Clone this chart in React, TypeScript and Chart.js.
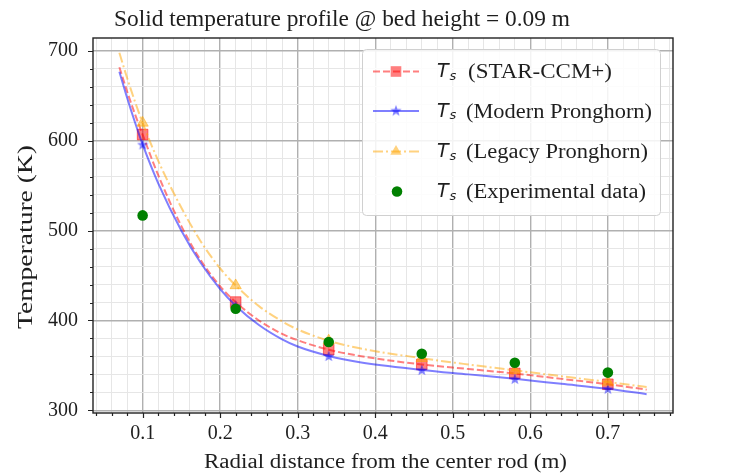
import React, { useEffect, useRef } from 'react';
import { Chart, registerables } from 'chart.js';

Chart.register(...registerables);

const TITLE = 'Solid temperature profile @ bed height = 0.09 m';
const X_LABEL = 'Radial distance from the center rod (m)';
const Y_LABEL = 'Temperature (K)';

// radial positions (m) of the simulated profiles
const simX = [0.07, 0.08, 0.09, 0.1, 0.12, 0.15, 0.175, 0.2, 0.22, 0.25, 0.28, 0.3, 0.34, 0.38, 0.46, 0.52, 0.58, 0.64, 0.7, 0.75];
const starCcmT = [682, 655, 630, 607, 562, 505, 467, 438, 420.5, 400, 385, 378, 367.5, 360.5, 351, 346, 341, 335, 329, 323];
const modernT = [677, 648, 621, 596, 553, 500, 464, 435, 416.5, 395, 379, 371, 360.5, 353.5, 345, 340, 335, 329.5, 324, 318];
const legacyT = [698, 670, 644, 620, 578, 525.5, 488, 458, 439, 416, 399, 390, 377.5, 369, 358, 351, 344.5, 338, 331.5, 326];
const markerX = [0.1, 0.22, 0.34, 0.46, 0.58, 0.7];

const expX = [0.1, 0.22, 0.34, 0.46, 0.58, 0.7];
const expT = [517, 413, 376, 363, 353, 342];

const xMajorTicks = [0.1, 0.2, 0.3, 0.4, 0.5, 0.6, 0.7];
const xMinorTicks = [0.04, 0.06, 0.08, 0.12, 0.14, 0.16, 0.18, 0.22, 0.24, 0.26, 0.28, 0.32, 0.34, 0.36, 0.38, 0.42, 0.44, 0.46, 0.48, 0.52, 0.54, 0.56, 0.58, 0.62, 0.64, 0.66, 0.68, 0.72, 0.74, 0.76, 0.78];
const yMajorTicks = [300, 400, 500, 600, 700];
const yMinorTicks = [320, 340, 360, 380, 420, 440, 460, 480, 520, 540, 560, 580, 620, 640, 660, 680];

const legendLabels = ['(STAR-CCM+)', '(Modern Pronghorn)', '(Legacy Pronghorn)', '(Experimental data)'];

const X_MIN = 0.036;
const X_MAX = 0.784;
const Y_MIN = 297;
const Y_MAX = 714.5;

const SERIF = "'Liberation Serif', 'Times New Roman', serif";
const TEXT = '#1e1e1e';
const RED = 'rgba(255,0,0,0.5)';
const BLUE = 'rgba(0,0,255,0.5)';
const ORANGE = 'rgba(255,165,0,0.5)';
const GREEN = '#008000';

const near = (a: number, b: number) => Math.abs(a - b) < 1e-6;
const isMajorX = (v: number) => xMajorTicks.some((m) => near(m, v));
const isMajorY = (v: number) => yMajorTicks.some((m) => near(m, v));
const isMarker = (x: number) => markerX.some((m) => near(m, x));
const pts = (xs: number[], ys: number[]) => xs.map((x, i) => ({ x, y: ys[i] }));

function makeStar(size: number, color: string) {
  const c = document.createElement('canvas');
  c.width = size;
  c.height = size;
  const g = c.getContext('2d')!;
  const cx = size / 2, cy = size / 2 + 0.5, R = size / 2, r = R * 0.42;
  g.beginPath();
  for (let i = 0; i < 10; i++) {
    const ang = -Math.PI / 2 + (i * Math.PI) / 5;
    const rad = i % 2 === 0 ? R : r;
    g.lineTo(cx + rad * Math.cos(ang), cy + rad * Math.sin(ang));
  }
  g.closePath();
  g.fillStyle = color;
  g.fill();
  return c;
}

function stretchText(ctx: CanvasRenderingContext2D, text: string, x: number, y: number, font: string, target: number, align: 'left' | 'center') {
  ctx.save();
  ctx.font = font;
  ctx.textAlign = 'left';
  ctx.textBaseline = 'alphabetic';
  const w = ctx.measureText(text).width;
  const sx = target / w;
  ctx.translate(x, y);
  ctx.scale(sx, 1);
  ctx.fillText(text, align === 'center' ? -w / 2 : 0, 0);
  ctx.restore();
}

export default function App() {
  const ref = useRef<HTMLCanvasElement | null>(null);

  useEffect(() => {
    if (!ref.current) return;
    const star = makeStar(12, BLUE);

    const decor = {
      id: 'decor',
      afterDatasetsDraw(chart: any) {
        const { ctx, chartArea: a, scales } = chart;
        ctx.save();
        ctx.strokeStyle = '#222';
        ctx.lineWidth = 1.2;
        ctx.beginPath();
        for (const t of scales.x.ticks) {
          const px = Math.round(scales.x.getPixelForValue(t.value)) + 0.5;
          const len = isMajorX(t.value) ? 5 : 3;
          ctx.moveTo(px, a.bottom);
          ctx.lineTo(px, a.bottom + len);
        }
        for (const t of scales.y.ticks) {
          const py = Math.round(scales.y.getPixelForValue(t.value)) + 0.5;
          const len = isMajorY(t.value) ? 5 : 3;
          ctx.moveTo(a.left, py);
          ctx.lineTo(a.left - len, py);
        }
        ctx.stroke();
        ctx.lineWidth = 1.4;
        ctx.strokeRect(a.left, a.top, a.right - a.left, a.bottom - a.top);
        ctx.restore();
      },
      afterDraw(chart: any) {
        const ctx: CanvasRenderingContext2D = chart.ctx;
        ctx.save();
        ctx.fillStyle = TEXT;
        // title and axis titles
        stretchText(ctx, TITLE, 114, 26, `23px ${SERIF}`, 456, 'left');
        stretchText(ctx, X_LABEL, 204, 468, `20px ${SERIF}`, 363, 'left');
        ctx.save();
        ctx.translate(31.5, 237);
        ctx.rotate(-Math.PI / 2);
        stretchText(ctx, Y_LABEL, 0, 0, `20px ${SERIF}`, 184, 'center');
        ctx.restore();

        // legend box
        const bx = 362.5, by = 49.5, bw = 298, bh = 166;
        ctx.beginPath();
        (ctx as any).roundRect(bx, by, bw, bh, 4);
        ctx.fillStyle = 'rgba(255,255,255,0.85)';
        ctx.fill();
        ctx.strokeStyle = '#d0d0d0';
        ctx.lineWidth = 1;
        ctx.stroke();

        const rows = [71.5, 111, 151.5, 191.5];
        const hx0 = 373, hx1 = 419, mx = 396;
        // row 0: red dashed + square
        ctx.lineWidth = 2;
        ctx.strokeStyle = RED;
        ctx.setLineDash([7, 3]);
        ctx.beginPath();
        ctx.moveTo(hx0, rows[0]);
        ctx.lineTo(hx1, rows[0]);
        ctx.stroke();
        ctx.setLineDash([]);
        ctx.fillStyle = RED;
        ctx.fillRect(mx - 5.3, rows[0] - 5.3, 10.6, 10.6);
        // row 1: blue solid + star
        ctx.strokeStyle = BLUE;
        ctx.beginPath();
        ctx.moveTo(hx0, rows[1]);
        ctx.lineTo(hx1, rows[1]);
        ctx.stroke();
        ctx.drawImage(star, mx - 6, rows[1] - 6.5);
        // row 2: orange dash-dot + triangle
        ctx.strokeStyle = ORANGE;
        ctx.setLineDash([10, 3, 2, 3]);
        ctx.beginPath();
        ctx.moveTo(hx0, rows[2]);
        ctx.lineTo(hx1, rows[2]);
        ctx.stroke();
        ctx.setLineDash([]);
        ctx.fillStyle = ORANGE;
        ctx.beginPath();
        ctx.moveTo(mx, rows[2] - 6.5);
        ctx.lineTo(mx + 5.6, rows[2] + 3.3);
        ctx.lineTo(mx - 5.6, rows[2] + 3.3);
        ctx.closePath();
        ctx.fill();
        // row 3: green circle
        ctx.fillStyle = GREEN;
        ctx.beginPath();
        ctx.arc(mx + 1, rows[3], 5.3, 0, Math.PI * 2);
        ctx.fill();

        // legend labels
        const starts = [468, 466, 466, 466];
        const widths = [144, 186, 182, 180];
        rows.forEach((ry, i) => {
          ctx.fillStyle = TEXT;
          ctx.font = 'italic 19px "DejaVu Sans"';
          ctx.textAlign = 'left';
          ctx.textBaseline = 'alphabetic';
          ctx.fillText('T', 437, ry + 5.5);
          ctx.font = 'italic 13px "DejaVu Sans"';
          ctx.fillText('s', 449.5, ry + 8);
          stretchText(ctx, legendLabels[i], starts[i], ry + 6.5, `20px ${SERIF}`, widths[i], 'left');
        });
        ctx.restore();
      },
    };

    const chart = new Chart(ref.current, {
      type: 'scatter',
      data: {
        datasets: [
          {
            label: 'STAR-CCM+',
            data: pts(simX, starCcmT),
            showLine: true,
            borderColor: RED,
            borderWidth: 2,
            borderDash: [7, 3],
            cubicInterpolationMode: 'monotone',
            pointStyle: 'rect',
            pointRadius: (c: any) => (c.raw && isMarker(c.raw.x) ? 7.5 : 0),
            pointBackgroundColor: RED,
            pointBorderColor: RED,
            pointBorderWidth: 1,
            order: 4,
          },
          {
            label: 'Modern Pronghorn',
            data: pts(simX, modernT),
            showLine: true,
            borderColor: BLUE,
            borderWidth: 2,
            cubicInterpolationMode: 'monotone',
            pointStyle: star as any,
            pointRadius: (c: any) => (c.raw && isMarker(c.raw.x) ? 6 : 0),
            order: 3,
          },
          {
            label: 'Legacy Pronghorn',
            data: pts(simX, legacyT),
            showLine: true,
            borderColor: ORANGE,
            borderWidth: 2,
            borderDash: [10, 3, 2, 3],
            cubicInterpolationMode: 'monotone',
            pointStyle: 'triangle',
            pointRadius: (c: any) => (c.raw && isMarker(c.raw.x) ? 6.5 : 0),
            pointBackgroundColor: ORANGE,
            pointBorderColor: ORANGE,
            pointBorderWidth: 1,
            order: 2,
          },
          {
            label: 'Experimental data',
            data: pts(expX, expT),
            showLine: false,
            pointStyle: 'circle',
            pointRadius: 5.3,
            pointBackgroundColor: GREEN,
            pointBorderColor: GREEN,
            pointBorderWidth: 0,
            order: 1,
          },
        ],
      } as any,
      options: {
        animation: false,
        responsive: false,
        devicePixelRatio: 1,
        events: [],
        layout: { padding: { top: 38, right: 60, left: 0, bottom: 0 } },
        plugins: { legend: { display: false }, title: { display: false }, tooltip: { enabled: false } },
        scales: {
          x: {
            type: 'linear',
            min: X_MIN,
            max: X_MAX,
            afterBuildTicks: (s: any) => {
              s.ticks = [...xMajorTicks, ...xMinorTicks].sort((a, b) => a - b).map((v) => ({ value: v }));
            },
            afterFit: (s: any) => {
              s.height = 60;
            },
            ticks: {
              autoSkip: false,
              maxRotation: 0,
              minRotation: 0,
              padding: 9,
              color: TEXT,
              font: { family: SERIF, size: 20 },
              callback: (v: any) => (isMajorX(Number(v)) ? Number(v).toFixed(1) : ''),
            },
            grid: {
              drawTicks: false,
              color: (c: any) => (c.tick && isMajorX(c.tick.value) ? '#b0b0b0' : '#e6e6e6'),
              lineWidth: (c: any) => (c.tick && isMajorX(c.tick.value) ? 1.4 : 1),
            },
            border: { display: false },
          },
          y: {
            type: 'linear',
            min: Y_MIN,
            max: Y_MAX,
            afterBuildTicks: (s: any) => {
              s.ticks = [...yMajorTicks, ...yMinorTicks].sort((a, b) => a - b).map((v) => ({ value: v }));
            },
            afterFit: (s: any) => {
              s.width = 93;
            },
            ticks: {
              autoSkip: false,
              padding: 15,
              color: TEXT,
              font: { family: SERIF, size: 20 },
              callback: (v: any) => (isMajorY(Number(v)) ? String(Math.round(Number(v))) : ''),
            },
            grid: {
              drawTicks: false,
              color: (c: any) => (c.tick && isMajorY(c.tick.value) ? '#b0b0b0' : '#e6e6e6'),
              lineWidth: (c: any) => (c.tick && isMajorY(c.tick.value) ? 1.4 : 1),
            },
            border: { display: false },
          },
        },
      } as any,
      plugins: [decor],
    });
    return () => chart.destroy();
  }, []);

  return (
    <div style={{ position: 'fixed', left: 0, top: 0, width: 733, height: 473, background: '#fff' }}>
      <canvas ref={ref} width={733} height={473} style={{ width: 733, height: 473, display: 'block' }} />
    </div>
  );
}
